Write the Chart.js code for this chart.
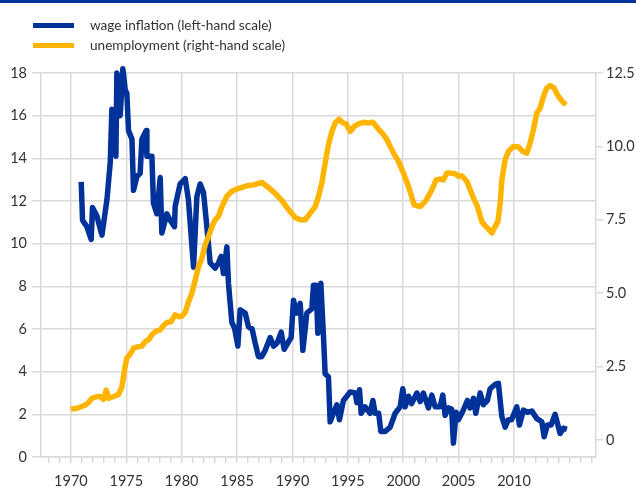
<!DOCTYPE html>
<html>
<head>
<meta charset="utf-8">
<script src="https://cdn.jsdelivr.net/npm/chart.js@4.4.1/dist/chart.umd.min.js"></script>
<style>
  body { margin: 0; background: #fff; }
  #wrap { position: relative; width: 636px; height: 497px; }
  #topRule { position: absolute; left: 0; top: 0; width: 636px; height: 3px; background: #003299; }
  .legend-item { position: absolute; left: 33px; height: 20px; display: flex; align-items: center;
    font-family: Lato, sans-serif; font-size: 13.6px; color: #333; }
  .legend-item i { display: inline-block; width: 41px; height: 5px; margin-right: 16px; }
  canvas { position: absolute; left: 0; top: 0; }
</style>
</head>
<body>
<div id="wrap">
  <canvas id="wageChart" width="636" height="497"></canvas>
  <div id="topRule"></div>
  <div class="legend-item" style="top:15px"><i style="background:#003299"></i>wage inflation (left-hand scale)</div>
  <div class="legend-item" style="top:35px"><i style="background:#ffb400"></i>unemployment (right-hand scale)</div>
</div>
<script>
const WAGE_COLOR = "#003299";
const UNEMP_COLOR = "#ffb400";
const GRID_COLOR = "#d9d9d9";
const TEXT_COLOR = "#333333";

// wage inflation, % (left-hand scale)
const wageYears = [
  1970.93, 1971.05, 1971.44, 1971.83, 1971.95, 1972.35, 1972.49, 1972.80, 1973.25, 1973.55,
  1973.70, 1973.94, 1974.06, 1974.15, 1974.45, 1974.69, 1974.90, 1975.05, 1975.20, 1975.51,
  1975.65, 1975.96, 1976.25, 1976.41, 1976.80, 1976.86, 1977.31, 1977.45, 1977.76, 1978.06,
  1978.21, 1978.66, 1978.96, 1979.35, 1979.41, 1979.86, 1980.32, 1980.61, 1981.07, 1981.37,
  1981.67, 1981.97, 1982.27, 1982.57, 1983.02, 1983.32, 1983.56, 1983.77, 1984.08, 1984.22,
  1984.53, 1984.77, 1985.07, 1985.28, 1985.73, 1986.03, 1986.36, 1986.63, 1986.93, 1987.22,
  1987.54, 1987.99, 1988.29, 1988.62, 1988.98, 1989.25, 1989.64, 1989.88, 1990.09, 1990.40,
  1990.70, 1990.94, 1991.30, 1991.75, 1991.90, 1992.14, 1992.29, 1992.56, 1992.80, 1992.95,
  1993.25, 1993.40, 1993.70, 1994.01, 1994.24, 1994.60, 1994.91, 1995.21, 1995.66, 1995.81,
  1996.05, 1996.20, 1996.56, 1997.01, 1997.26, 1997.46, 1997.78, 1997.98, 1998.37, 1998.82,
  1999.27, 1999.72, 1999.96, 2000.17, 2000.47, 2000.76, 2001.23, 2001.53, 2001.82, 2002.27,
  2002.58, 2002.88, 2003.33, 2003.57, 2003.78, 2004.08, 2004.37, 2004.53, 2004.77, 2004.98,
  2005.43, 2005.79, 2006.04, 2006.34, 2006.55, 2006.94, 2007.24, 2007.60, 2007.84, 2008.29,
  2008.59, 2008.90, 2009.20, 2009.49, 2009.78, 2010.25, 2010.49, 2010.85, 2011.18, 2011.61,
  2012.06, 2012.51, 2012.72, 2013.01, 2013.35, 2013.71, 2014.16, 2014.46, 2014.77
];
const wageValues = [
  12.9, 11.1, 10.8, 10.2, 11.7, 11.3, 11.0, 10.4, 12.05, 13.8,
  16.3, 14.7, 14.1, 18.0, 16.0, 18.2, 17.2, 17.05, 15.3, 14.9,
  12.5, 13.15, 13.3, 14.9, 15.3, 14.1, 14.1, 11.9, 11.4, 13.1,
  10.5, 11.4, 11.1, 10.8, 11.75, 12.8, 13.05, 12.05, 8.9, 12.2,
  12.8, 12.4, 10.8, 9.1, 8.85, 9.1, 9.4, 8.6, 9.85, 8.15,
  6.3, 6.05, 5.2, 6.9, 6.75, 6.1, 6.0, 5.35, 4.7, 4.7,
  5.0, 5.6, 5.2, 5.35, 5.85, 5.05, 5.4, 5.6, 7.35, 6.75,
  7.2, 5.0, 6.75, 6.95, 8.05, 8.05, 5.8, 8.15, 5.65, 3.9,
  3.75, 1.65, 2.05, 2.45, 1.75, 2.65, 2.85, 3.05, 3.0, 2.55,
  3.15, 2.05, 2.35, 2.05, 2.65, 2.05, 2.05, 1.2, 1.2, 1.4,
  2.05, 2.35, 3.2, 2.35, 2.85, 2.5, 3.0, 2.6, 3.0, 2.3,
  2.9, 2.35, 2.35, 2.9, 1.95, 2.3, 2.25, 0.65, 2.1, 1.75,
  2.2, 2.65, 2.3, 2.75, 2.05, 3.0, 2.45, 2.65, 3.2, 3.4,
  3.45, 1.9, 1.4, 1.75, 1.75, 2.35, 1.5, 2.2, 2.1, 2.15,
  1.8, 1.65, 0.95, 1.5, 1.5, 2.0, 1.1, 1.35, 1.3
];

// unemployment rate, % (right-hand scale)
const unempYears = [
  1970.00, 1970.54, 1970.99, 1971.29, 1971.59, 1971.90, 1972.35, 1972.64, 1972.94, 1973.19,
  1973.39, 1973.84, 1974.30, 1974.60, 1974.84, 1975.05, 1975.35, 1975.65, 1976.10, 1976.41,
  1976.71, 1977.00, 1977.31, 1977.61, 1978.06, 1978.36, 1978.66, 1979.05, 1979.41, 1979.71,
  1980.02, 1980.32, 1980.61, 1980.92, 1981.22, 1981.52, 1981.82, 1982.12, 1982.42, 1982.73,
  1983.02, 1983.32, 1983.63, 1984.08, 1984.53, 1984.98, 1985.43, 1985.88, 1986.48, 1987.24,
  1987.83, 1988.44, 1989.04, 1989.64, 1990.24, 1990.69, 1991.15, 1991.60, 1992.05, 1992.35,
  1992.65, 1992.95, 1993.25, 1993.56, 1993.85, 1994.22, 1994.55, 1994.85, 1995.21, 1995.57,
  1995.96, 1996.41, 1996.86, 1997.26, 1997.76, 1998.21, 1998.52, 1998.82, 1999.12, 1999.57,
  2000.02, 2000.47, 2000.98, 2001.53, 2001.98, 2002.43, 2002.73, 2002.97, 2003.33, 2003.63,
  2003.94, 2004.23, 2004.68, 2004.98, 2005.29, 2005.74, 2006.04, 2006.34, 2006.70, 2007.09,
  2007.39, 2007.69, 2008.00, 2008.29, 2008.54, 2008.75, 2008.90, 2009.20, 2009.49, 2009.95,
  2010.40, 2010.79, 2011.16, 2011.45, 2011.75, 2012.06, 2012.36, 2012.65, 2012.96, 2013.26,
  2013.62, 2014.01, 2014.43, 2014.70
];
const unempValues = [
  1.05, 1.08, 1.14, 1.19, 1.28, 1.42, 1.48, 1.48, 1.38, 1.70,
  1.42, 1.48, 1.55, 1.8, 2.39, 2.79, 2.92, 3.13, 3.18, 3.2,
  3.35, 3.41, 3.58, 3.69, 3.75, 3.9, 4.0, 4.03, 4.26, 4.2,
  4.22, 4.35, 4.7, 5.0, 5.45, 5.9, 6.2, 6.65, 6.93, 7.27,
  7.5, 7.62, 7.95, 8.3, 8.47, 8.55, 8.6, 8.66, 8.69, 8.77,
  8.6, 8.4, 8.15, 7.85, 7.58, 7.5, 7.5, 7.73, 7.95, 8.3,
  8.75, 9.43, 10.06, 10.51, 10.8, 10.93, 10.8, 10.77, 10.51, 10.68,
  10.77, 10.82, 10.8, 10.82, 10.59, 10.4, 10.23, 10.0, 9.77, 9.49,
  9.09, 8.64, 8.01, 7.95, 8.12, 8.41, 8.64, 8.86, 8.89, 8.86,
  9.09, 9.09, 9.07, 8.98, 9.0, 8.81, 8.52, 8.24, 7.95, 7.44,
  7.3, 7.18, 7.05, 7.27, 7.44, 8.07, 8.86, 9.55, 9.83, 10.0,
  9.98, 9.83, 9.77, 10.11, 10.57, 11.14, 11.31, 11.7, 11.99, 12.07,
  11.99, 11.7, 11.5, 11.42
];

const labelYears = [1970, 1975, 1980, 1985, 1990, 1995, 2000, 2005, 2010];
const leftTicks = [0, 2, 4, 6, 8, 10, 12, 14, 16, 18];
const rightTicks = [0, 2.5, 5, 7.5, 10, 12.5];

function toPoints(years, values) {
  return years.map((year, i) => ({ x: year, y: values[i] }));
}

function yearTicks() {
  const ticks = [];
  for (let y = 1968; y <= 2017; y++) ticks.push({ value: y });
  return ticks;
}

const tickFont = { family: "Lato, sans-serif", size: 14.5 };

new Chart(document.querySelector("#wageChart"), {
  type: "line",
  data: {
    datasets: [
      {
        label: "wage inflation (left-hand scale)",
        data: toPoints(wageYears, wageValues),
        borderColor: WAGE_COLOR,
        borderWidth: 5.5,
        pointRadius: 0,
        tension: 0,
        borderJoinStyle: "round",
        clip: 10,
        yAxisID: "y",
        order: 2
      },
      {
        label: "unemployment (right-hand scale)",
        data: toPoints(unempYears, unempValues),
        borderColor: UNEMP_COLOR,
        borderWidth: 5.5,
        pointRadius: 0,
        tension: 0,
        borderJoinStyle: "round",
        clip: 10,
        yAxisID: "y1",
        order: 1
      }
    ]
  },
  options: {
    responsive: false,
    animation: false,
    layout: { padding: { top: 73, left: 0, right: 0, bottom: 0 } },
    plugins: { legend: { display: false }, tooltip: { enabled: false } },
    scales: {
      x: {
        type: "linear",
        min: 1967.3,
        max: 2017.4,
        afterBuildTicks: scale => { scale.ticks = yearTicks(); },
        afterFit: scale => { scale.height = 40; },
        ticks: {
          autoSkip: false,
          maxRotation: 0,
          padding: 10,
          color: TEXT_COLOR,
          font: tickFont,
          callback: value => labelYears.includes(value) ? String(value) : ""
        },
        grid: {
          color: ctx => labelYears.includes(ctx.tick && ctx.tick.value) ? GRID_COLOR : "rgba(0,0,0,0)",
          tickColor: GRID_COLOR,
          tickLength: 6,
          lineWidth: 1.5
        },
        border: { display: true, color: GRID_COLOR, width: 1.5 }
      },
      y: {
        position: "left",
        min: 0,
        max: 18,
        afterBuildTicks: scale => { scale.ticks = leftTicks.map(v => ({ value: v })); },
        afterFit: scale => { scale.width = 41; },
        ticks: { padding: 5, color: TEXT_COLOR, font: tickFont },
        grid: { color: GRID_COLOR, tickColor: GRID_COLOR, tickLength: 9, lineWidth: 1.5 },
        border: { display: true, color: GRID_COLOR, width: 1.5 }
      },
      y1: {
        position: "right",
        min: -0.58,
        max: 12.5,
        afterBuildTicks: scale => { scale.ticks = rightTicks.map(v => ({ value: v })); },
        afterFit: scale => { scale.width = 40; },
        ticks: {
          padding: 3,
          color: TEXT_COLOR,
          font: tickFont,
          callback: value => value === 0 ? "0" : value.toFixed(1)
        },
        grid: { drawOnChartArea: false, tickColor: GRID_COLOR, tickLength: 7, lineWidth: 1.5 },
        border: { display: true, color: GRID_COLOR, width: 1.5 }
      }
    }
  }
});
</script>
</body>
</html>
